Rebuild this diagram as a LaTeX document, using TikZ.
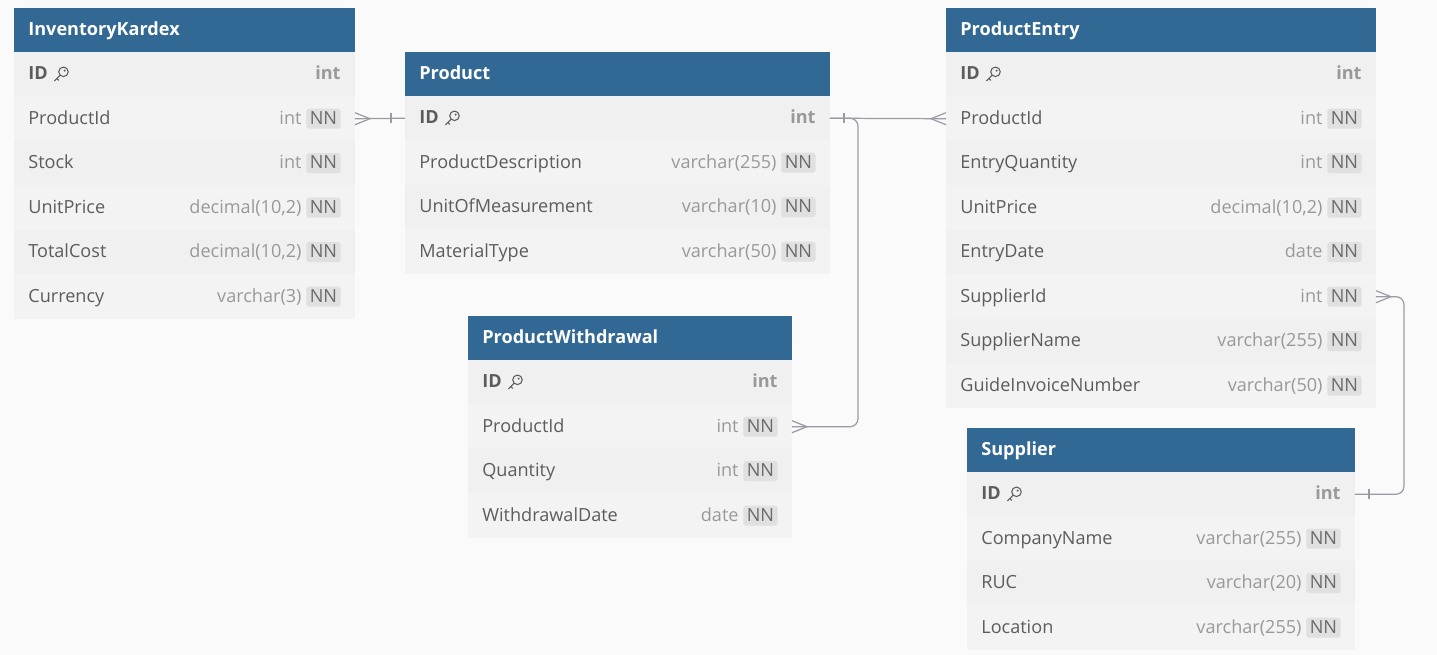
\documentclass[tikz,border=0pt]{standalone}
\usepackage{fontspec}
\setmainfont{Open Sans}
\usepackage{tikz}
\usetikzlibrary{positioning,calc}

\definecolor{hdrblue}{HTML}{326894}
\definecolor{pagebg}{HTML}{FAFAFA}
\definecolor{rowa}{HTML}{F0F0F0}
\definecolor{rowb}{HTML}{F3F3F3}
\definecolor{fieldgray}{HTML}{5C5C5C}
\definecolor{typegray}{HTML}{999999}
\definecolor{nnbg}{HTML}{E0E0E0}
\definecolor{nntext}{HTML}{6A6A6A}
\definecolor{linkgray}{HTML}{9B9BA6}

\newcommand{\erfont}{\fontsize{10.3pt}{12pt}\selectfont}

\tikzset{
  hdr/.style={fill=hdrblue, minimum height=0.88cm, inner sep=0, outer sep=0, anchor=north west},
  hname/.style={anchor=west, text=white, font=\erfont\bfseries, inner sep=0, text height=1.6ex, text depth=0.45ex},
  rowbox/.style={minimum height=0.89cm, inner sep=0, outer sep=0},
  fname/.style={anchor=west, text=fieldgray, inner sep=0, text height=1.6ex, text depth=0.45ex},
  ftype/.style={anchor=east, text=typegray, inner sep=0, text height=1.6ex, text depth=0.45ex},
  nnbox/.style={anchor=east, fill=nnbg, text=nntext, rounded corners=1.5pt,
    inner xsep=2pt, inner ysep=0pt, minimum height=0.4cm, minimum width=0.68cm,
    text height=1.6ex, text depth=0.45ex},
  conn/.style={draw=linkgray, line width=0.7pt},
  crow/.pic={\draw[conn] (0,-6) -- (15,0) -- (0,6);},
  bar/.pic={\draw[conn] (14,-5) -- (14,5);},
  key/.pic={
    \draw[fieldgray, line width=0.6pt] (2.4,-2.4) circle[radius=0.095cm];
    \fill[fieldgray] (3.6,-3.6) circle[radius=0.022cm];
    \draw[fieldgray, line width=0.6pt, line cap=round] (-0.9,0.9) -- (-6.5,6.5) (-4.2,4.2) -- (-2.4,6);
  }
}

\begin{document}
\begin{tikzpicture}[x=0.02cm, y=-0.02cm, font=\erfont]
\useasboundingbox[fill=pagebg] (0,0) rectangle (1437,655);

% InventoryKardex
\node[hdr, minimum width=6.82cm] (kardex-0) at (14,8) {};
\node[hname] at ([xshift=0.28cm]kardex-0.west) {InventoryKardex};
\node[rowbox, fill=rowa, minimum width=6.82cm, below=0pt of kardex-0] (kardex-1) {};
\node[fname, font=\erfont\bfseries] (kardex-id) at ([xshift=0.28cm]kardex-1.west) {ID};
\pic at ([xshift=0.26cm]kardex-id.east) {key};
\node[ftype, font=\erfont\bfseries] at ([xshift=-0.28cm]kardex-1.east) {int};
\foreach \f/\t [count=\i from 2, remember=\i as \j (initially 1)] in
  {ProductId/int, Stock/int, UnitPrice/{decimal(10,2)}, TotalCost/{decimal(10,2)}, Currency/{varchar(3)}} {
  \ifodd\i\def\rowfill{rowa}\else\def\rowfill{rowb}\fi
  \node[rowbox, fill=\rowfill, minimum width=6.82cm, below=0pt of kardex-\j] (kardex-\i) {};
  \node[fname] at ([xshift=0.28cm]kardex-\i.west) {\f};
  \node[nnbox] (kardex-\i-nn) at ([xshift=-0.28cm]kardex-\i.east) {NN};
  \node[ftype] at ([xshift=-0.08cm]kardex-\i-nn.west) {\t};
}

% Product
\node[hdr, minimum width=8.5cm] (product-0) at (405,52) {};
\node[hname] at ([xshift=0.28cm]product-0.west) {Product};
\node[rowbox, fill=rowa, minimum width=8.5cm, below=0pt of product-0] (product-1) {};
\node[fname, font=\erfont\bfseries] (product-id) at ([xshift=0.28cm]product-1.west) {ID};
\pic at ([xshift=0.26cm]product-id.east) {key};
\node[ftype, font=\erfont\bfseries] at ([xshift=-0.28cm]product-1.east) {int};
\foreach \f/\t [count=\i from 2, remember=\i as \j (initially 1)] in
  {ProductDescription/{varchar(255)}, UnitOfMeasurement/{varchar(10)}, MaterialType/{varchar(50)}} {
  \ifodd\i\def\rowfill{rowa}\else\def\rowfill{rowb}\fi
  \node[rowbox, fill=\rowfill, minimum width=8.5cm, below=0pt of product-\j] (product-\i) {};
  \node[fname] at ([xshift=0.28cm]product-\i.west) {\f};
  \node[nnbox] (product-\i-nn) at ([xshift=-0.28cm]product-\i.east) {NN};
  \node[ftype] at ([xshift=-0.08cm]product-\i-nn.west) {\t};
}

% ProductWithdrawal
\node[hdr, minimum width=6.48cm] (withdrawal-0) at (468,316) {};
\node[hname] at ([xshift=0.28cm]withdrawal-0.west) {ProductWithdrawal};
\node[rowbox, fill=rowa, minimum width=6.48cm, below=0pt of withdrawal-0] (withdrawal-1) {};
\node[fname, font=\erfont\bfseries] (withdrawal-id) at ([xshift=0.28cm]withdrawal-1.west) {ID};
\pic at ([xshift=0.26cm]withdrawal-id.east) {key};
\node[ftype, font=\erfont\bfseries] at ([xshift=-0.28cm]withdrawal-1.east) {int};
\foreach \f/\t [count=\i from 2, remember=\i as \j (initially 1)] in
  {ProductId/int, Quantity/int, WithdrawalDate/date} {
  \ifodd\i\def\rowfill{rowa}\else\def\rowfill{rowb}\fi
  \node[rowbox, fill=\rowfill, minimum width=6.48cm, below=0pt of withdrawal-\j] (withdrawal-\i) {};
  \node[fname] at ([xshift=0.28cm]withdrawal-\i.west) {\f};
  \node[nnbox] (withdrawal-\i-nn) at ([xshift=-0.28cm]withdrawal-\i.east) {NN};
  \node[ftype] at ([xshift=-0.08cm]withdrawal-\i-nn.west) {\t};
}

% ProductEntry
\node[hdr, minimum width=8.6cm] (entry-0) at (946,8) {};
\node[hname] at ([xshift=0.28cm]entry-0.west) {ProductEntry};
\node[rowbox, fill=rowa, minimum width=8.6cm, below=0pt of entry-0] (entry-1) {};
\node[fname, font=\erfont\bfseries] (entry-id) at ([xshift=0.28cm]entry-1.west) {ID};
\pic at ([xshift=0.26cm]entry-id.east) {key};
\node[ftype, font=\erfont\bfseries] at ([xshift=-0.28cm]entry-1.east) {int};
\foreach \f/\t [count=\i from 2, remember=\i as \j (initially 1)] in
  {ProductId/int, EntryQuantity/int, UnitPrice/{decimal(10,2)}, EntryDate/date,
   SupplierId/int, SupplierName/{varchar(255)}, GuideInvoiceNumber/{varchar(50)}} {
  \ifodd\i\def\rowfill{rowa}\else\def\rowfill{rowb}\fi
  \node[rowbox, fill=\rowfill, minimum width=8.6cm, below=0pt of entry-\j] (entry-\i) {};
  \node[fname] at ([xshift=0.28cm]entry-\i.west) {\f};
  \node[nnbox] (entry-\i-nn) at ([xshift=-0.28cm]entry-\i.east) {NN};
  \node[ftype] at ([xshift=-0.08cm]entry-\i-nn.west) {\t};
}

% Supplier
\node[hdr, minimum width=7.76cm] (supplier-0) at (967,428) {};
\node[hname] at ([xshift=0.28cm]supplier-0.west) {Supplier};
\node[rowbox, fill=rowa, minimum width=7.76cm, below=0pt of supplier-0] (supplier-1) {};
\node[fname, font=\erfont\bfseries] (supplier-id) at ([xshift=0.28cm]supplier-1.west) {ID};
\pic at ([xshift=0.26cm]supplier-id.east) {key};
\node[ftype, font=\erfont\bfseries] at ([xshift=-0.28cm]supplier-1.east) {int};
\foreach \f/\t [count=\i from 2, remember=\i as \j (initially 1)] in
  {CompanyName/{varchar(255)}, RUC/{varchar(20)}, Location/{varchar(255)}} {
  \ifodd\i\def\rowfill{rowa}\else\def\rowfill{rowb}\fi
  \node[rowbox, fill=\rowfill, minimum width=7.76cm, below=0pt of supplier-\j] (supplier-\i) {};
  \node[fname] at ([xshift=0.28cm]supplier-\i.west) {\f};
  \node[nnbox] (supplier-\i-nn) at ([xshift=-0.28cm]supplier-\i.east) {NN};
  \node[ftype] at ([xshift=-0.08cm]supplier-\i-nn.west) {\t};
}

% Relations
\coordinate (bend1) at (858,0);
\coordinate (bend2) at (1404,0);

\draw[conn] (kardex-2.east) -- (product-1.west);
\pic at (kardex-2.east) {crow};
\pic[xscale=-1] at (product-1.west) {bar};

\draw[conn] (product-1.east) -- (entry-2.west);
\pic at (product-1.east) {bar};
\pic[xscale=-1] at (entry-2.west) {crow};

\draw[conn, rounded corners=0.16cm] (product-1.east) -- (product-1.east -| bend1) |- (withdrawal-2.east);
\pic at (withdrawal-2.east) {crow};

\draw[conn, rounded corners=0.16cm] (entry-6.east) -- (entry-6.east -| bend2) |- (supplier-1.east);
\pic at (entry-6.east) {crow};
\pic at (supplier-1.east) {bar};
\end{tikzpicture}
\end{document}
